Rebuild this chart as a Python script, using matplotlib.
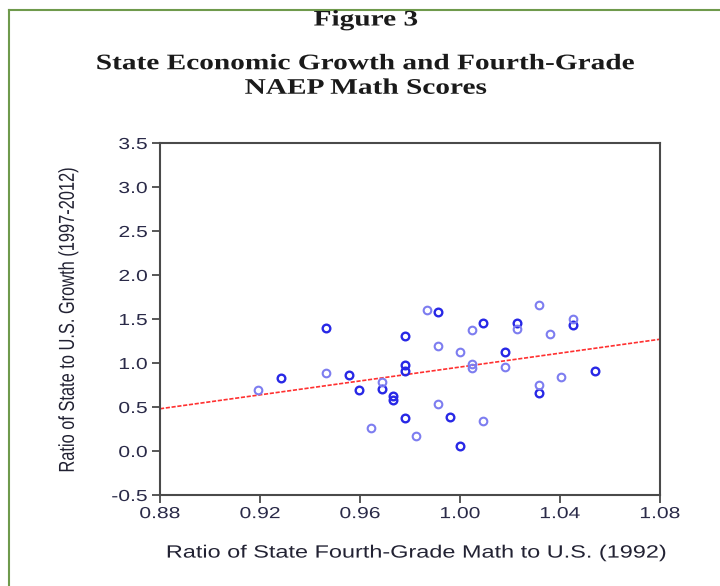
import matplotlib.pyplot as plt
from matplotlib.lines import Line2D
from matplotlib.patheffects import AbstractPathEffect
from matplotlib.transforms import Affine2D

# data
dark_x = [0.9464, 0.9779, 0.9779, 0.9779, 0.9285, 0.9555, 0.9597, 0.9689, 0.9733, 0.9733,
          0.9779, 0.9913, 1.0093, 1.0227, 1.0451, 1.0181, 1.0541, 1.0316, 0.9959, 1.0001]
dark_y = [1.40, 1.31, 0.98, 0.91, 0.83, 0.86, 0.69, 0.71, 0.62, 0.58,
          0.38, 1.58, 1.46, 1.45, 1.43, 1.13, 0.91, 0.66, 0.39, 0.06]

light_x = [0.9464, 0.9193, 0.9689, 0.9643, 0.9868, 1.0047, 1.0227, 1.0316, 1.0361, 1.0451,
           0.9913, 1.0001, 1.0047, 1.0047, 1.0181, 1.0405, 1.0316, 0.9913, 1.0093, 0.9824]
light_y = [0.89, 0.69, 0.78, 0.26, 1.60, 1.37, 1.39, 1.66, 1.33, 1.50,
           1.19, 1.13, 0.99, 0.94, 0.95, 0.84, 0.75, 0.53, 0.34, 0.17]

fit_x = [0.88, 1.08]
fit_y = [0.48, 1.27]

x_ticks = [0.88, 0.92, 0.96, 1.00, 1.04, 1.08]
y_ticks = [-0.5, 0.0, 0.5, 1.0, 1.5, 2.0, 2.5, 3.0, 3.5]

SX = 1.32  # the source picture is stretched sideways


class Stretch(AbstractPathEffect):
    # scale glyph outlines around an anchor (keeps the text a Text artist)
    def __init__(self, sx=1.0, sy=1.0, anchor="center"):
        super().__init__()
        self.sx, self.sy, self.anchor = sx, sy, anchor

    def draw_path(self, renderer, gc, tpath, affine, rgbFace=None):
        ext = tpath.get_extents()
        if self.anchor == "right":
            cx = ext.x1
        elif self.anchor == "left":
            cx = ext.x0
        else:
            cx = (ext.x0 + ext.x1) / 2
        cy = (ext.y0 + ext.y1) / 2
        pre = Affine2D().translate(-cx, -cy).scale(self.sx, self.sy).translate(cx, cy)
        renderer.draw_path(gc, tpath, pre + affine, rgbFace)


fig = plt.figure(figsize=(7.2, 5.86), dpi=100)
ax = fig.add_axes([160 / 720, 91 / 586, 500 / 720, 352 / 586])

# green frame around the figure
fig.add_artist(Line2D([9 / 720, 1.0], [1 - 10 / 586, 1 - 10 / 586], color="#6f9a4c", lw=1.5))
fig.add_artist(Line2D([9 / 720, 9 / 720], [0.0, 1 - 10 / 586], color="#6f9a4c", lw=1.5))

ax.plot(fit_x, fit_y, color="#ff3030", lw=1.2, ls=(0, (2.5, 1)), zorder=2)
ax.plot(dark_x, dark_y, "o", ms=5.5, mfc="none", mec="#2828e6", mew=1.7, zorder=3)
ax.plot(light_x, light_y, "o", ms=5.5, mfc="none", mec="#7d7df0", mew=1.5, zorder=3)

ax.set_xlim(0.88, 1.08)
ax.set_ylim(-0.5, 3.5)
ax.set_xticks(x_ticks)
ax.set_xticklabels([f"{v:.2f}" for v in x_ticks])
ax.set_yticks(y_ticks)
ax.set_yticklabels([f"{v:.1f}" for v in y_ticks])

for s in ax.spines.values():
    s.set_color("#4a4a4a")
    s.set_linewidth(1.5)
ax.tick_params(direction="out", length=6, width=1.3, color="#4a4a4a",
               labelsize=11.5, labelcolor="#2a2a48")
ax.tick_params(axis="y", pad=3)
ax.tick_params(axis="x", pad=2)
for lab in ax.get_xticklabels():
    lab.set_family("Liberation Sans")
    lab.set_path_effects([Stretch(sx=SX)])
for lab in ax.get_yticklabels():
    lab.set_family("Liberation Sans")
    lab.set_path_effects([Stretch(sx=SX, anchor="right")])

ax.set_xlabel("Ratio of State Fourth-Grade Math to U.S. (1992)", fontsize=12.8,
              family="Liberation Sans", color="#222233", va="center",
              path_effects=[Stretch(sx=SX)])
ax.xaxis.set_label_coords(0.512, -0.165)
ax.set_ylabel("Ratio of State to U.S. Growth (1997-2012)", fontsize=11.8,
              family="Liberation Sans", color="#222233", va="center", ha="center",
              path_effects=[Stretch(sy=SX)])
ax.yaxis.set_label_coords(-0.184, 0.497)

fig.text(366 / 720, 1 - 20.5 / 586, "Figure 3", ha="center", va="center",
         fontsize=16, fontweight="bold", family="Liberation Serif", color="#1a1a1a",
         path_effects=[Stretch(sx=SX)])
fig.text(366 / 720, 1 - 76.5 / 586, "State Economic Growth and Fourth-Grade\nNAEP Math Scores",
         ha="center", va="center", fontsize=16, fontweight="bold",
         family="Liberation Serif", color="#1a1a1a", linespacing=1.3,
         path_effects=[Stretch(sx=SX)])

fig.savefig("out.png", dpi=100)
